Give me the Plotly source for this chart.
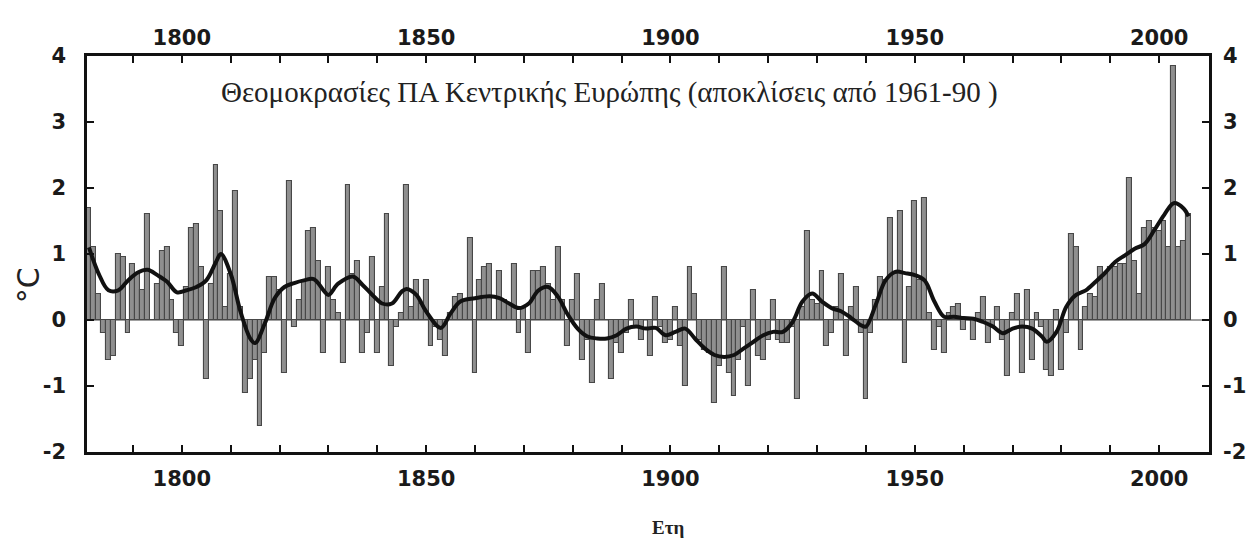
import plotly.graph_objects as go

# Annual summer temperature anomalies (°C, relative to 1961-90), Central Europe
years = list(range(1781, 2007))
anomaly = [
    1.7, 1.1, 0.4, -0.2, -0.6, -0.55, 1.0, 0.95, -0.2, 0.85,          # 1781-1790
    0.7, 0.45, 1.6, 0.0, 0.55, 1.05, 1.1, 0.3, -0.2, -0.4,            # 1791-1800
    0.5, 1.4, 1.45, 0.8, -0.9, 0.55, 2.35, 1.65, 0.2, 0.7,            # 1801-1810
    1.95, 0.2, -1.1, -0.9, -0.6, -1.6, -0.5, 0.65, 0.65, 0.45,        # 1811-1820
    -0.8, 2.1, -0.1, 0.3, 0.6, 1.35, 1.4, 0.9, -0.5, 0.8,             # 1821-1830
    0.3, 0.1, -0.65, 2.05, 0.7, 0.9, -0.5, -0.2, 0.95, -0.5,          # 1831-1840
    0.5, 1.6, -0.7, -0.1, 0.1, 2.05, 0.2, 0.6, 0.25, 0.6,             # 1841-1850
    -0.4, -0.1, -0.3, -0.55, 0.1, 0.35, 0.4, 0.3, 1.25, -0.8,         # 1851-1860
    0.6, 0.8, 0.85, 0.0, 0.75, 0.3, 0.25, 0.85, -0.2, 0.2,            # 1861-1870
    -0.5, 0.75, 0.75, 0.8, 0.55, 0.3, 1.1, 0.3, -0.4, 0.3,            # 1871-1880
    0.7, -0.6, -0.3, -0.95, 0.3, 0.55, 0.0, -0.9, -0.35, -0.5,        # 1881-1890
    -0.2, 0.3, -0.1, -0.3, 0.0, -0.55, 0.35, -0.1, -0.35, -0.3,       # 1891-1900
    0.2, -0.4, -1.0, 0.8, 0.4, -0.3, -0.45, -0.5, -1.25, -0.7,        # 1901-1910
    0.8, -0.8, -1.15, -0.6, -0.1, -1.0, 0.45, -0.55, -0.6, -0.3,      # 1911-1920
    0.3, -0.3, -0.35, -0.35, -0.1, -1.2, 0.2, 1.35, 0.3, 0.25,        # 1921-1930
    0.75, -0.4, -0.2, 0.2, 0.7, -0.55, 0.2, 0.5, -0.2, -1.2,          # 1931-1940
    -0.2, 0.3, 0.65, 0.6, 1.55, 0.7, 1.65, -0.65, 0.5, 1.8,           # 1941-1950
    0.6, 1.85, 0.1, -0.45, -0.1, -0.5, 0.1, 0.2, 0.25, -0.15,         # 1951-1960
    0.0, -0.3, 0.1, 0.35, -0.35, -0.1, 0.2, -0.3, -0.85, 0.1,         # 1961-1970
    0.4, -0.8, 0.45, -0.6, 0.1, -0.1, -0.75, -0.85, 0.15, -0.75,      # 1971-1980
    -0.2, 1.3, 1.1, -0.45, 0.2, 0.4, 0.35, 0.8, 0.7, 0.8,             # 1981-1990
    0.8, 0.85, 0.85, 2.15, 0.9, 0.4, 1.4, 1.5, 1.4, 1.35,             # 1991-2000
    1.5, 1.1, 3.85, 1.1, 1.2, 1.6,                                    # 2001-2006
]

# Smoothed (low-pass) curve
smooth_years = [1781, 1783, 1785, 1787, 1789, 1791, 1793, 1795, 1797, 1799,
                1801, 1803, 1805, 1807, 1808, 1810, 1812, 1814, 1815, 1817,
                1819, 1821, 1823, 1825, 1827, 1829, 1830, 1832, 1835, 1837,
                1839, 1841, 1843, 1845, 1846, 1848, 1850, 1853, 1855, 1857,
                1860, 1863, 1865, 1867, 1869, 1871, 1873, 1875, 1877, 1879,
                1881, 1883, 1885, 1887, 1889, 1891, 1893, 1895, 1897, 1899,
                1901, 1903, 1905, 1907, 1909, 1911, 1913, 1915, 1917, 1919,
                1921, 1923, 1925, 1927, 1929, 1931, 1933, 1935, 1937, 1939,
                1940, 1942, 1944, 1946, 1948, 1950, 1952, 1954, 1956, 1958,
                1960, 1962, 1964, 1966, 1968, 1970, 1972, 1974, 1976, 1977,
                1979, 1981, 1983, 1985, 1987, 1989, 1991, 1993, 1995, 1997,
                1999, 2001, 2003, 2005, 2006]
smooth_vals = [1.1, 0.7, 0.45, 0.45, 0.6, 0.72, 0.76, 0.68, 0.58, 0.42,
               0.45, 0.5, 0.6, 0.88, 1.0, 0.7, 0.13, -0.28, -0.35, -0.05,
               0.33, 0.5, 0.56, 0.6, 0.62, 0.45, 0.38, 0.55, 0.66, 0.53,
               0.38, 0.25, 0.25, 0.43, 0.47, 0.38, 0.13, -0.12, 0.1, 0.28,
               0.33, 0.36, 0.33, 0.25, 0.18, 0.25, 0.45, 0.5, 0.35, 0.08,
               -0.13, -0.25, -0.28, -0.28, -0.23, -0.13, -0.1, -0.13, -0.12, -0.23,
               -0.18, -0.13, -0.28, -0.43, -0.53, -0.56, -0.53, -0.43, -0.33, -0.23,
               -0.18, -0.18, -0.03, 0.28, 0.4, 0.28, 0.18, 0.13, 0.03, -0.08,
               -0.1, 0.23, 0.6, 0.73, 0.71, 0.68, 0.6, 0.28, 0.05, 0.05,
               0.03, 0.02, -0.03, -0.1, -0.2, -0.13, -0.1, -0.13, -0.25, -0.33,
               -0.18, 0.2, 0.38, 0.45, 0.58, 0.72, 0.88, 0.98, 1.08, 1.15,
               1.36, 1.59, 1.77, 1.69, 1.57]

x_range = [1780.6, 2010.2]
y_range = [-2, 4]
x_label_vals = [1800, 1850, 1900, 1950, 2000]
x_label_text = ["1800", "1850", "1900", "1950", "2000"]
y_label_vals = [-2, -1, 0, 1, 2, 3, 4]
y_label_text = ["-2", "-1", "0", "1", "2", "3", "4"]

title_text = "Θεομοκρασίες ΠΑ Κεντρικής Ευρώπης (αποκλίσεις από 1961-90 )"
x_title = "Ετη"
y_title = "°C"

fig = go.Figure()
fig.add_trace(go.Bar(
    x=years, y=anomaly, width=1.0,
    marker=dict(color="#8f8f8f", line=dict(color="#474747", width=1.1)),
    xaxis="x", yaxis="y", showlegend=False, hoverinfo="x+y",
))
fig.add_trace(go.Scatter(
    x=smooth_years, y=smooth_vals, mode="lines",
    line=dict(color="#111111", width=4, shape="spline", smoothing=1.0),
    xaxis="x2", yaxis="y2", showlegend=False,
))

tick_font_b = dict(family="DejaVu Sans", size=21, color="#1a1a1a", weight="bold")

common_x = dict(
    range=x_range, tickmode="array", tickvals=x_label_vals, ticktext=x_label_text,
    ticks="inside", ticklen=7, tickwidth=2, tickcolor="#111",
    minor=dict(dtick=10, tick0=1800, ticks="inside", ticklen=7, tickwidth=2, tickcolor="#111"),
    showgrid=False, zeroline=False, showline=True, linecolor="#111", linewidth=2.5,
    tickfont=tick_font_b, automargin=False,
)
common_y = dict(
    range=y_range, tickmode="array", tickvals=y_label_vals, ticktext=y_label_text,
    ticks="inside", ticklen=7, tickwidth=2, tickcolor="#111",
    showgrid=False, showline=True, linecolor="#111", linewidth=2.5,
    tickfont=tick_font_b, automargin=False,
)

# the page body adds an 8px offset; margins compensate so the plot lands where the reference has it
fig.update_layout(
    width=1256, height=549,
    margin=dict(l=79, r=55, t=48, b=105),
    paper_bgcolor="white", plot_bgcolor="white",
    bargap=0,
    xaxis=dict(side="bottom", ticklabelstandoff=6, **common_x),
    xaxis2=dict(side="top", overlaying="x", matches="x", ticklabelstandoff=0, **common_x),
    yaxis=dict(side="left", zeroline=True, zerolinecolor="#a0a0a0", zerolinewidth=1.5,
               ticklabelstandoff=14, **common_y),
    yaxis2=dict(side="right", overlaying="y", matches="y", zeroline=False,
                ticklabelstandoff=7, **common_y),
    annotations=[
        dict(text=title_text, xref="paper", yref="paper", x=0.466, y=0.909,
             showarrow=False, xanchor="center", yanchor="middle",
             font=dict(family="Liberation Serif", size=29, color="#222")),
        dict(text=x_title, xref="paper", yref="paper", x=0.518, y=-0.19,
             showarrow=False, xanchor="center", yanchor="middle",
             font=dict(family="Liberation Serif", size=19, color="#222", weight="bold")),
        dict(text=y_title, xref="paper", yref="paper", x=-0.052, y=0.42,
             showarrow=False, xanchor="center", yanchor="middle", textangle=-90,
             font=dict(family="DejaVu Sans", size=30, color="#222")),
    ],
)

fig.write_html("out.html")
